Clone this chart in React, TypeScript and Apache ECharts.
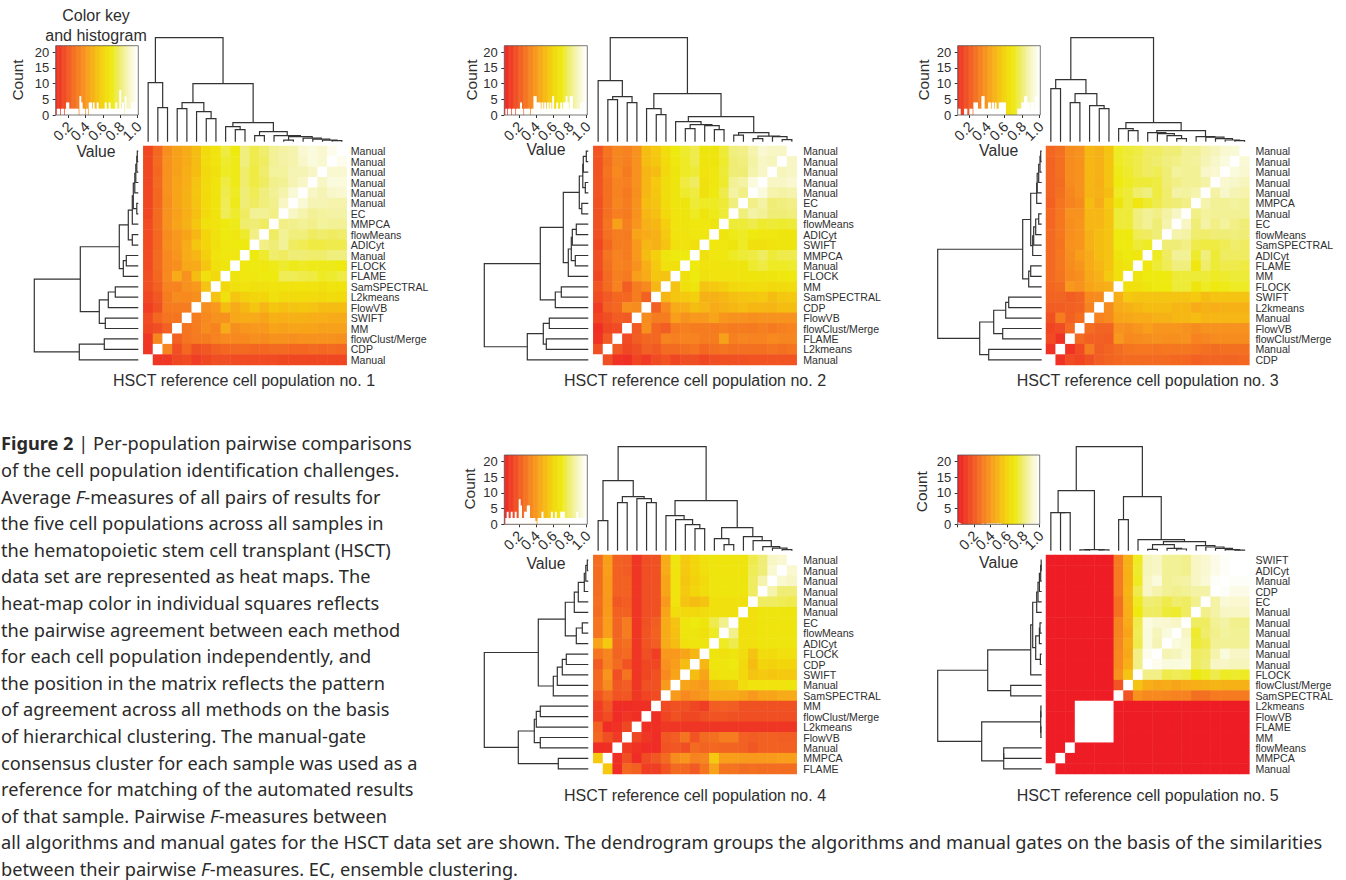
import React, { useEffect, useRef } from "react";
import * as echarts from "echarts";

const FONT = "Liberation Sans";
const RAMP = ["#EE1C25","#EF3B24","#F15A22","#F57A20","#F8981D","#F6B714","#F3D50C","#EEE90F","#EFED75","#F7F6C4","#FFFFFF"];

const LABELS1 = ["Manual","Manual","Manual","Manual","Manual","Manual","EC","MMPCA","flowMeans","ADICyt","Manual","FLOCK","FLAME","SamSPECTRAL","L2kmeans","FlowVB","SWIFT","MM","flowClust/Merge","CDP","Manual"];
const LABELS2 = ["Manual","Manual","Manual","Manual","Manual","EC","Manual","flowMeans","ADICyt","SWIFT","MMPCA","Manual","FLOCK","MM","SamSPECTRAL","CDP","FlowVB","flowClust/Merge","FLAME","L2kmeans","Manual"];
const LABELS3 = ["Manual","Manual","Manual","Manual","Manual","MMPCA","Manual","EC","flowMeans","SamSPECTRAL","ADICyt","FLAME","MM","FLOCK","SWIFT","L2kmeans","Manual","FlowVB","flowClust/Merge","Manual","CDP"];
const LABELS4 = ["Manual","Manual","Manual","Manual","Manual","Manual","EC","flowMeans","ADICyt","FLOCK","CDP","SWIFT","Manual","SamSPECTRAL","MM","flowClust/Merge","L2kmeans","FlowVB","Manual","MMPCA","FLAME"];
const LABELS5 = ["SWIFT","ADICyt","Manual","CDP","EC","Manual","Manual","Manual","Manual","Manual","Manual","FLOCK","flowClust/Merge","SamSPECTRAL","L2kmeans","FlowVB","FLAME","MM","flowMeans","MMPCA","Manual"];

// Upper-left triangles of the symmetric matrices, row by row, F-measure x 100
const MATRIX1 = [
  [14,24,37,43,46,52,63,67,75,70,81,76,79,84,86,87,92,94,92,97],
  [14,25,38,43,46,52,64,67,73,71,81,76,78,84,86,87,91,94,92],
  [14,24,38,43,47,52,62,66,72,71,79,75,79,85,85,88,88,90],
  [14,25,38,44,47,54,63,67,75,71,79,75,78,83,84,88,90],
  [14,24,38,44,48,55,63,67,76,72,80,77,81,84,87,93],
  [14,24,37,44,48,54,63,67,77,71,80,78,81,83,90],
  [14,25,38,43,47,53,63,67,77,73,78,84,84,82],
  [15,25,38,44,48,55,66,67,70,71,79,80,78],
  [15,24,36,40,44,50,60,66,70,69,73,82],
  [15,24,37,40,46,55,60,66,69,70,70],
  [15,25,35,39,46,50,58,67,69,69],
  [15,25,35,37,45,46,55,66,68],
  [16,24,35,46,38,52,66,62],
  [16,22,33,33,38,40,54],
  [14,19,31,36,35,37],
  [11,17,30,31,31],
  [15,24,28,28],
  [14,16,22],
  [9,34],
  [8],
];
const MATRIX2 = [
  [18,28,34,33,38,52,56,64,70,73,76,68,68,74,81,82,87,92,90,90],
  [18,27,34,32,38,52,55,63,69,72,76,68,68,73,80,81,86,90,89],
  [18,28,35,30,38,49,52,62,68,72,74,67,69,74,80,80,87,90],
  [18,27,33,32,38,50,56,64,68,75,78,66,69,73,84,86,94],
  [18,27,33,30,37,50,55,64,68,73,75,66,70,76,86,82],
  [17,27,34,31,38,52,54,63,68,68,74,72,72,74,81],
  [17,27,32,30,38,50,53,62,67,68,72,68,71,74],
  [17,28,43,32,39,48,50,58,67,68,69,69,68],
  [16,27,31,30,44,46,48,56,67,67,69,69],
  [14,24,31,31,40,50,48,54,66,67,66],
  [16,28,33,31,40,52,58,68,70,70],
  [16,27,33,32,38,47,56,66,66],
  [14,25,32,30,42,46,55,54],
  [18,25,33,21,31,35,50],
  [15,20,24,24,31,22],
  [10,22,24,37,36],
  [13,16,21,20],
  [6,14,15],
  [7,20],
  [16],
];
const MATRIX3 = [
  [24,27,36,38,50,48,54,72,74,75,78,78,80,80,84,84,87,89,92,93],
  [23,27,36,38,50,48,54,72,74,76,78,79,81,82,84,85,88,91,94],
  [23,27,36,38,50,48,54,71,73,76,78,77,80,85,84,84,91,92],
  [23,26,36,38,50,47,54,70,72,74,74,75,80,82,84,84,86],
  [23,27,34,38,49,48,52,72,74,79,81,75,79,86,85,87],
  [22,28,33,36,52,46,56,68,74,69,73,76,79,80,82],
  [24,29,38,38,50,50,54,74,74,81,84,82,86,90],
  [24,29,37,39,50,50,54,74,74,81,84,80,87],
  [25,29,37,39,48,52,54,70,70,77,78,80],
  [25,28,38,39,48,52,54,70,70,74,72],
  [25,29,37,42,46,52,54,68,70,69],
  [25,29,36,39,46,50,54,66,68],
  [25,28,35,37,45,48,56,65],
  [24,26,40,38,44,46,47],
  [23,23,21,23,35,36],
  [21,21,22,23,33],
  [17,31,22,26],
  [13,15,25],
  [15,7],
  [7],
];
const MATRIX4 = [
  [26,42,22,21,8,16,17,46,68,56,60,66,68,68,68,68,76,80,90,92],
  [26,42,22,21,8,16,17,46,67,56,60,65,68,68,68,68,77,80,92],
  [26,41,22,22,8,16,17,44,67,55,59,63,68,68,68,68,78,87],
  [26,41,22,22,8,16,17,44,67,56,60,64,68,68,68,68,78],
  [27,40,19,21,8,16,17,40,67,54,52,54,66,66,66,66],
  [26,41,22,22,8,16,17,44,64,62,62,64,66,66,66],
  [28,42,23,31,8,17,21,46,54,68,70,68,76,83],
  [28,42,23,31,8,18,22,46,53,68,68,66,72],
  [44,56,24,27,8,18,21,46,52,66,68,68],
  [28,34,23,25,8,16,11,40,40,44,50],
  [20,33,25,18,8,14,14,38,42,52],
  [24,39,16,28,8,14,17,35,44],
  [25,36,19,21,8,17,17,41],
  [18,25,18,19,9,13,15],
  [11,19,5,5,6,6],
  [11,15,5,8,6],
  [22,5,7,14],
  [24,16,10],
  [5,6],
  [56],
];
const MATRIX5 = [
  [0,0,0,0,0,0,0,30,48,72,89,90,84,84,83,90,92,96,99,100],
  [0,0,0,0,0,0,0,30,48,73,89,90,84,84,83,90,92,96,99],
  [0,0,0,0,0,0,0,30,48,72,90,94,84,85,86,90,93,99],
  [0,0,0,0,0,0,0,30,49,76,90,87,84,83,84,86,86],
  [0,0,0,0,0,0,0,27,48,72,80,79,76,79,78,83],
  [0,0,0,0,0,0,0,27,47,70,78,78,74,73,78],
  [0,0,0,0,0,0,0,33,46,76,95,93,92,90],
  [0,0,0,0,0,0,0,33,44,77,94,89,94],
  [0,0,0,0,0,0,0,34,46,76,94,88],
  [0,0,0,0,0,0,0,35,45,82,97],
  [0,0,0,0,0,0,0,35,47,82],
  [0,0,0,0,0,0,0,38,54],
  [0,0,0,0,0,0,0,18],
  [0,0,0,0,0,0,0],
  [0,0,0,100,100,100],
  [0,0,0,100,100],
  [0,0,0,100],
  [0,0,0],
  [0,0],
  [0],
];

// Dendrograms: [height, left, right]; 0 is a leaf
const TREE1 = [104,[59,0,[34,0,0]],[58,[39,[33,0,0],[30,0,[23,0,0]]],[19,[15,0,[12,0,0]],[10,[6,0,0],[6,0,[5,[1.5,0,0],[3.5,0,[2.5,0,[1.5,0,[1,0,0]]]]]]]]]];
const TREE2 = [104,[61,0,[45,[42,0,0],[39,0,0]]],[48,[33,0,[27,0,0]],[25,[20,0,[17,[13,0,0],[16,0,[12,0,0]]]],[9,[6.5,0,0],[5.5,[3,0,0],[5,0,[2,0,0]]]]]]];
const TREE3 = [104,[62,[53,0,0],[48,[39,0,0],[36,0,[33,0,0]]]],[19,[13,0,[11,0,0]],[11,[9,0,[8,0,[6,0,[3,0,0]]]],[5,0,[4.5,0,[3,0,[1.7,0,[1,0,0]]]]]]]];
const TREE4 = [104,[70,[30,0,0],[54,[48,0,0],[52,0,[48,0,0]]]],[50,[35,0,[31,0,[26,0,[22,0,0]]]],[23,[12,0,[6,0,0]],[14,0,[10,0,[4,0,[2.5,0,[1,0,0]]]]]]]];
const TREE5 = [104,[60,[38,0,[38,0,0]],[1,[0.8,0,0],[0.8,0,0]]],[54,[31,0,0],[11,0,[9,[6,[1.3,0,0],[2.3,0,[1.7,0,0]]],[5,0,[3.7,0,[2.3,0,[1,0,[0.5,0,0]]]]]]]]];

// Histogram counts across each colour key
const HIST1 = [0,2,2,0,2,2,0,2,4,4,2,2,2,2,2,2,2,0,6,4,2,2,0,2,0,4,4,2,4,2,2,4,2,2,2,2,2,4,2,2,4,2,2,2,2,4,2,2,8,2,4,0,6,2,2,2,2,4,2,4,4,2];
const HIST2 = [0,2,0,2,2,0,2,2,0,2,2,2,4,2,0,2,2,2,2,0,2,2,6,6,4,4,4,2,4,2,4,2,4,2,4,2,6,2,2,4,2,2,4,2,4,4,6,4,2,6,6,2,2,2,2,2,2,4,2,4,0,0];
const HIST3 = [2,2,0,0,0,2,2,0,0,2,2,0,4,4,4,2,2,2,6,6,2,2,2,4,4,2,4,2,4,2,2,4,4,4,4,4,0,0,0,0,0,0,0,0,0,2,2,2,4,4,6,6,4,4,2,4,4,2,6,6,2,2];
const HIST4 = [0,2,4,2,2,4,2,2,4,2,2,8,6,2,2,4,4,6,6,2,2,2,2,1,0,2,2,2,4,2,2,2,2,2,2,4,2,2,4,2,2,2,4,4,4,2,2,2,2,2,2,2,2,2,4,2,2,2,2,2,2,2];
const HIST5 = [0.6,0.4,0.2,0,0,0,0,0,0,0,0,0,0,0,0,0,0,0,0.2,0.2,0,0,0.3,0.2,0.2,0.3,0.2,0.3,0.2,0.2,0.3,0.2,0.3,0,0,0,0,0,0,0,0,0,0,0,0,0,0,0,0,0,0,0.2,0.3,0.2,0.3,0.2,0.3,0.2,0.3,0.2,0.3,0.2];

const TICKS_X = [0.2,0.4,0.6,0.8,1.0];
const TICKS_Y = [0,5,10,15,20];
const KEY_STEPS = 100;

const CAPTION = [
  "{b|Figure 2} | Per-population pairwise comparisons",
  "of the cell population identification challenges.",
  "Average {i|F}-measures of all pairs of results for",
  "the five cell populations across all samples in",
  "the hematopoietic stem cell transplant (HSCT)",
  "data set are represented as heat maps. The",
  "heat-map color in individual squares reflects",
  "the pairwise agreement between each method",
  "for each cell population independently, and",
  "the position in the matrix reflects the pattern",
  "of agreement across all methods on the basis",
  "of hierarchical clustering. The manual-gate",
  "consensus cluster for each sample was used as a",
  "reference for matching of the automated results",
  "of that sample. Pairwise {i|F}-measures between",
  "all algorithms and manual gates for the HSCT data set are shown. The dendrogram groups the algorithms and manual gates on the basis of the similarities",
  "between their pairwise {i|F}-measures. EC, ensemble clustering.",
];

const PANELS = [
  { no: 1, labels: LABELS1, tri: MATRIX1, tree: TREE1, hist: HIST1, keyMin: 0.054, keyMax: 1.008, heatL: 143.3, heatT: 146, topBase: 141.7, leftBase: 138.3, keyL: 55.7, keyR: 138.3, keyT: 45.7, keyB: 115, margin: 4, titleX: 244, titleY: 380, countX: 17.3, countY: 80, valueX: 96, valueY: 151.7 },
  { no: 2, labels: LABELS2, tri: MATRIX2, tree: TREE2, hist: HIST2, keyMin: 0.027, keyMax: 1.008, heatL: 593.3, heatT: 146, topBase: 141.7, leftBase: 588.3, keyL: 504.3, keyR: 587.3, keyT: 45.7, keyB: 115, margin: 6.5, titleX: 695, titleY: 380, countX: 471, countY: 80, valueX: 546, valueY: 149.7 },
  { no: 3, labels: LABELS3, tri: MATRIX3, tree: TREE3, hist: HIST3, keyMin: 0.067, keyMax: 1.008, heatL: 1046, heatT: 146, topBase: 141.7, leftBase: 1041.7, keyL: 957.7, keyR: 1040.3, keyT: 45.7, keyB: 115, margin: 6, titleX: 1147.7, titleY: 380, countX: 923.3, countY: 80, valueX: 998.7, valueY: 150.7 },
  { no: 4, labels: LABELS4, tri: MATRIX4, tree: TREE4, hist: HIST4, keyMin: 0.027, keyMax: 1.008, heatL: 593.3, heatT: 555, topBase: 550.7, leftBase: 588.3, keyL: 504.3, keyR: 587.3, keyT: 455, keyB: 524.3, margin: 6.5, titleX: 695, titleY: 795, countX: 469, countY: 489, valueX: 546, valueY: 563.3 },
  { no: 5, labels: LABELS5, tri: MATRIX5, tree: TREE5, hist: HIST5, keyMin: 0, keyMax: 1.0, heatL: 1046, heatT: 555, topBase: 550.7, leftBase: 1041.7, keyL: 957.7, keyR: 1039.7, keyT: 455, keyB: 524.3, margin: 6, titleX: 1147.7, titleY: 795, countX: 921, countY: 491.7, valueX: 998.7, valueY: 562.7 },
];

const HEAT_W = 203.4;
const HEAT_H = 219;
const TREE_H = 104;
const DARK = "#2e2e2e";
const CAPTION_SIZE = 18.2;

function merges(tree: any) {
  let leaf = 0;
  const out: number[][] = [];
  const walk = (n: any): { x: number; h: number } => {
    if (n === 0) return { x: leaf++ + 0.5, h: 0 };
    const a = walk(n[1]);
    const b = walk(n[2]);
    out.push([a.x, b.x, a.h, b.h, n[0]]);
    return { x: (a.x + b.x) / 2, h: n[0] };
  };
  walk(tree);
  return out;
}

function heatData(tri: number[][]) {
  const out: number[][] = [];
  for (let r = 0; r < 21; r++) {
    for (let c = 0; c < 21; c++) {
      let v = 100;
      if (r + c < 20) v = tri[r][c];
      else if (r + c > 20) v = tri[20 - c][20 - r];
      out.push([c, r, v / 100]);
    }
  }
  return out;
}

const treeItem = (vertical: boolean) => (_p: any, api: any) => {
  const pts = [
    [api.value(0), api.value(2)],
    [api.value(0), api.value(4)],
    [api.value(1), api.value(4)],
    [api.value(1), api.value(3)],
  ].map((d) => api.coord(vertical ? d : [d[1], d[0]]));
  return { type: "polyline", shape: { points: pts }, style: { stroke: "#333", fill: "none", lineWidth: 1.2 } };
};

function buildOption() {
  const grid: any[] = [];
  const xAxis: any[] = [];
  const yAxis: any[] = [];
  const series: any[] = [];
  const graphic: any[] = [];
  const heatSeries: number[] = [];
  const cats = Array.from({ length: 21 }, (_, i) => String(i));

  PANELS.forEach((p, k) => {
    const base = k * 4;
    // heat map
    grid.push({ left: p.heatL, top: p.heatT, width: HEAT_W, height: HEAT_H });
    xAxis.push({ gridIndex: base, type: "category", data: cats, show: false });
    yAxis.push({
      gridIndex: base, type: "category", data: p.labels, inverse: true, position: "right",
      axisLine: { show: false }, axisTick: { show: false },
      axisLabel: { interval: 0, fontSize: 10.6, fontFamily: FONT, color: DARK, margin: p.margin },
    });
    heatSeries.push(series.length);
    series.push({ type: "heatmap", xAxisIndex: base, yAxisIndex: base, data: heatData(p.tri), silent: true, itemStyle: { borderWidth: 0 } });

    const tree = merges(p.tree);
    // top dendrogram
    grid.push({ left: p.heatL, top: p.topBase - TREE_H, width: HEAT_W, height: TREE_H });
    xAxis.push({ gridIndex: base + 1, type: "value", min: 0, max: 21, show: false });
    yAxis.push({ gridIndex: base + 1, type: "value", min: 0, max: TREE_H, show: false });
    series.push({ type: "custom", xAxisIndex: base + 1, yAxisIndex: base + 1, data: tree, renderItem: treeItem(true), silent: true, clip: false });

    // left dendrogram
    grid.push({ left: p.leftBase - TREE_H, top: p.heatT, width: TREE_H, height: HEAT_H });
    xAxis.push({ gridIndex: base + 2, type: "value", min: 0, max: TREE_H, inverse: true, show: false });
    yAxis.push({ gridIndex: base + 2, type: "value", min: 0, max: 21, show: false });
    series.push({ type: "custom", xAxisIndex: base + 2, yAxisIndex: base + 2, data: tree, renderItem: treeItem(false), silent: true, clip: false });

    // colour key
    grid.push({ left: p.keyL, top: p.keyT, width: p.keyR - p.keyL, height: p.keyB - p.keyT });
    xAxis.push({
      gridIndex: base + 3, type: "value", min: p.keyMin, max: p.keyMax, splitLine: { show: false },
      axisLine: { show: false },
      axisTick: { show: true, length: 3, customValues: k === 4 ? [0, ...TICKS_X] : TICKS_X, lineStyle: { color: "#333" } },
      axisLabel: { show: false },
    });
    yAxis.push({
      gridIndex: base + 3, type: "value", min: 0, max: 22.1, splitLine: { show: false },
      axisLine: { show: false },
      axisTick: { show: true, length: 3, customValues: TICKS_Y, lineStyle: { color: "#333" } },
      axisLabel: { fontSize: 13, fontFamily: FONT, color: DARK, margin: 6.5, showMinLabel: true, customValues: TICKS_Y },
    });
    const step = (p.keyMax - p.keyMin) / KEY_STEPS;
    const ramp = Array.from({ length: KEY_STEPS }, (_, i) => [p.keyMin + i * step, p.keyMin + (i + 1) * step]);
    series.push({
      type: "custom", xAxisIndex: base + 3, yAxisIndex: base + 3, data: ramp, silent: true,
      renderItem: (_q: any, api: any) => {
        const a = api.coord([api.value(0), 22.1]);
        const b = api.coord([api.value(1), 0]);
        const mid = Math.min(1, (api.value(0) + api.value(1)) / 2);
        return { type: "rect", shape: { x: a[0], y: a[1], width: b[0] - a[0] + 0.5, height: b[1] - a[1] }, style: { fill: echarts.color.lerp(mid, RAMP) } };
      },
    });
    const bw = (p.keyMax - p.keyMin) / p.hist.length;
    const bars = p.hist.map((n, i) => [p.keyMin + i * bw, p.keyMin + (i + 1) * bw, n]);
    series.push({
      type: "custom", xAxisIndex: base + 3, yAxisIndex: base + 3, data: bars, silent: true,
      renderItem: (_q: any, api: any) => {
        if (!api.value(2)) return null;
        const a = api.coord([api.value(0), api.value(2)]);
        const b = api.coord([api.value(1), 0]);
        return { type: "rect", shape: { x: a[0] - 0.3, y: a[1], width: b[0] - a[0] + 0.6, height: b[1] - a[1] }, style: { fill: "#fff" } };
      },
    });
    series.push({
      type: "custom", xAxisIndex: base + 3, yAxisIndex: base + 3, data: [[p.keyMin, p.keyMax]], silent: true, clip: false,
      renderItem: (_q: any, api: any) => {
        const a = api.coord([api.value(0), 22.1]);
        const b = api.coord([api.value(1), 0]);
        return { type: "rect", shape: { x: a[0], y: a[1], width: b[0] - a[0], height: b[1] - a[1] }, style: { fill: "none", stroke: "#555", lineWidth: 0.8 } };
      },
    });
    // rotated value labels under the key
    series.push({
      type: "custom", xAxisIndex: base + 3, yAxisIndex: base + 3, data: TICKS_X.map((v) => [v, 0]), silent: true, clip: false,
      renderItem: (_q: any, api: any) => {
        const a = api.coord([api.value(0), 0]);
        return {
          type: "text", x: a[0] + 1.5, y: a[1] + 9, rotation: Math.PI / 4,
          style: { text: api.value(0).toFixed(1), font: `14.4px "${FONT}"`, fill: DARK, align: "right", verticalAlign: "middle" },
        };
      },
    });

    graphic.push(
      { type: "text", x: p.titleX, y: p.titleY, style: { text: `HSCT reference cell population no. ${p.no}`, font: `16px "${FONT}"`, fill: DARK, align: "center", verticalAlign: "middle" } },
      { type: "text", x: p.countX, y: p.countY, rotation: Math.PI / 2, style: { text: "Count", font: `15.4px "${FONT}"`, fill: DARK, align: "center", verticalAlign: "middle" } },
      { type: "text", x: p.valueX, y: p.valueY, style: { text: "Value", font: `15.8px "${FONT}"`, fill: DARK, align: "center", verticalAlign: "middle" } },
    );
  });

  graphic.push(
    { type: "text", x: 96, y: 15.7, style: { text: "Color key", font: `16px "${FONT}"`, fill: DARK, align: "center", verticalAlign: "middle" } },
    { type: "text", x: 96, y: 35, style: { text: "and histogram", font: `16px "${FONT}"`, fill: DARK, align: "center", verticalAlign: "middle" } },
  );
  CAPTION.forEach((line, i) => {
    graphic.push({
      type: "text", x: 1, y: 443.3 + i * 26.6,
      style: {
        text: line, font: `${CAPTION_SIZE}px "Noto Sans"`, fill: "#2a2a2a", align: "left", verticalAlign: "middle",
        rich: {
          b: { font: `bold ${CAPTION_SIZE}px "Noto Sans"`, fill: "#2a2a2a" },
          i: { font: `italic ${CAPTION_SIZE}px "Noto Sans"`, fill: "#2a2a2a" },
        },
      },
    });
  });

  return {
    animation: false,
    backgroundColor: "#fff",
    grid, xAxis, yAxis, series, graphic,
    visualMap: { show: false, type: "continuous", min: 0, max: 1, dimension: 2, seriesIndex: heatSeries, inRange: { color: RAMP } },
  };
}

export default function App() {
  const ref = useRef<HTMLDivElement>(null);
  useEffect(() => {
    document.body.style.margin = "0";
    const chart = echarts.init(ref.current!, null, { renderer: "svg" });
    chart.setOption(buildOption() as any);
    return () => chart.dispose();
  }, []);
  return <div ref={ref} style={{ width: 1346, height: 880 }} />;
}
